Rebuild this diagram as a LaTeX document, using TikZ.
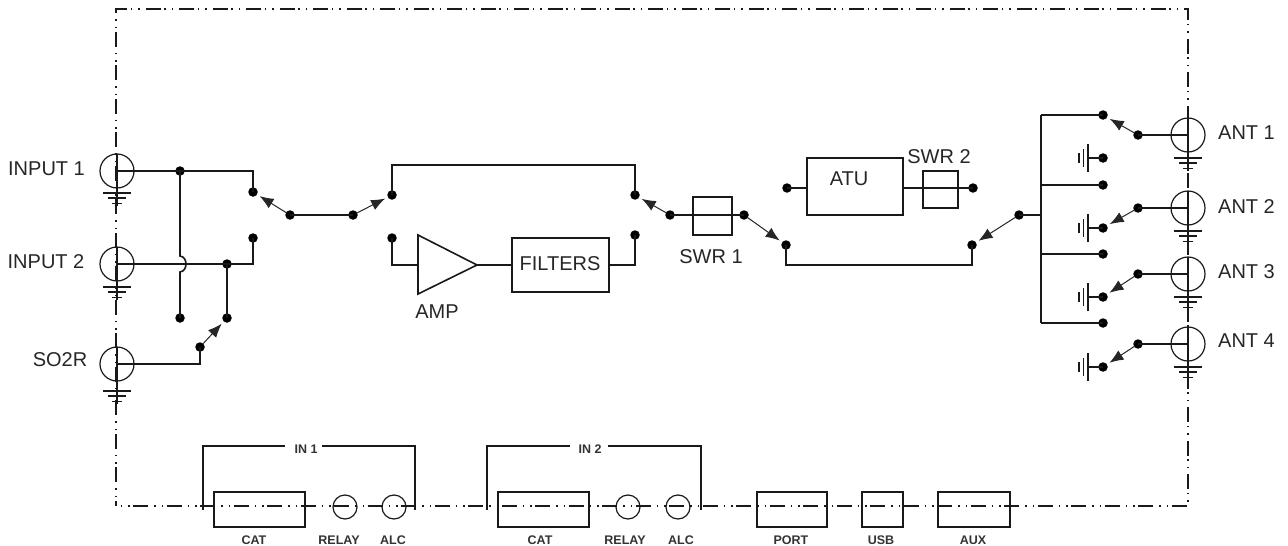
\documentclass[tikz,border=0pt]{standalone}
\usepackage{fontspec}
\setmainfont{Liberation Sans}
\usetikzlibrary{arrows.meta}
\tikzset{
  x=1pt,y=-1pt,
  wire/.style={line width=1.6pt,line join=miter,black!90},
  frameline/.style={line width=1.3pt,black!90,dash pattern=on 15pt off 6pt on 1.5pt off 6pt on 1.5pt off 3.5pt,dash phase=16.5pt},
  dotn/.style={circle,fill=black,inner sep=0pt,outer sep=0pt,minimum size=9.5pt},
  arm/.style={line width=1pt,black!85,-{Latex[length=14pt,width=11pt]},shorten >=3pt},
  box/.style={draw=black!90,line width=1.6pt,inner sep=0pt,outer sep=0pt,anchor=north west,fill=none},
  coax/.style={circle,draw=black!90,line width=1.2pt,inner sep=0pt,outer sep=0pt,minimum size=34pt},
  port/.style={circle,draw=black!90,line width=1.2pt,inner sep=0pt,outer sep=0pt,minimum size=24pt},
  big/.style={font=\fontsize{20}{20}\selectfont,text=black!85,inner sep=0pt},
  small/.style={font=\fontsize{12.5}{12.5}\selectfont\bfseries,text=black!80,inner sep=0pt},
}
\newcommand{\gndh}[1]{% horizontal ground hanging below a coordinate
  \draw[wire] ([xshift=-14pt]#1) -- ([xshift=14pt]#1);
  \draw[wire] ([xshift=-9pt,yshift=-5pt]#1) -- ([xshift=9pt,yshift=-5pt]#1);
  \draw[wire] ([xshift=-5pt,yshift=-10.5pt]#1) -- ([xshift=5pt,yshift=-10.5pt]#1);
}
\newcommand{\gndv}[1]{% vertical ground to the left of a coordinate
  \draw[wire] ([yshift=-14pt]#1) -- ([yshift=14pt]#1);
  \draw[wire] ([xshift=-4.5pt,yshift=-9pt]#1) -- ([xshift=-4.5pt,yshift=9pt]#1);
  \draw[wire] ([xshift=-9pt,yshift=-5pt]#1) -- ([xshift=-9pt,yshift=5pt]#1);
}
\newcommand{\boxat}[5]{\node[box,minimum width=#4pt,minimum height=#5pt] (#1) at (#2,#3) {};}
\begin{document}
\begin{tikzpicture}
\useasboundingbox (0,0) rectangle (1288,546);
% frame
\coordinate (fa) at (116,506); \coordinate (fb) at (1188,506);
\coordinate (fc) at (1188,9); \coordinate (fd) at (116,9);
\draw[frameline] (fa) -- (fb) -- (fc) -- (fd) -- cycle;

% input connectors
\node[coax] (in1) at (117,171) {};
\node[coax] (in2) at (117,264) {};
\node[coax] (so2r) at (117,364) {};
\coordinate (g1) at (117,193); \coordinate (g1e) at (117,206);
\coordinate (g2) at (117,287); \coordinate (g2e) at (117,300);
\coordinate (g3) at (117,391); \coordinate (g3e) at (117,404);
\draw[wire] (in1.north) -- (g1e); \gndh{g1}
\draw[wire] (in2.north) -- (g2e); \gndh{g2}
\draw[wire] (so2r.north) -- (g3e); \gndh{g3}
\node[big] (lin1) at (46.5,169) {INPUT 1};
\node[big] (lin2) at (46,262) {INPUT 2};
\node[big] (lso) at (60,360) {SO2R};

% input switching
\node[dotn] (j1) at (180,171) {};
\node[dotn] (s1a) at (253,192) {};
\node[dotn] (s1b) at (253,238) {};
\node[dotn] (s1p) at (290,215) {};
\node[dotn] (j2) at (227,264) {};
\node[dotn] (k1) at (180,318) {};
\node[dotn] (k2) at (227,318) {};
\node[dotn] (kp) at (200,347) {};
\coordinate (c1) at (253,171); \coordinate (c2) at (253,264); \coordinate (c3) at (200,364);
\coordinate (h1) at (180,256); \coordinate (h2) at (180,272);
\draw[wire] (in1.center) -- (c1) -- (s1a.center);
\draw[wire] (in2.center) -- (c2) -- (s1b.center);
\draw[wire] (so2r.center) -- (c3) -- (kp.center);
\draw[wire] (j2.center) -- (k2.center);
\draw[wire] (j1.center) -- (h1) .. controls (188,257) and (188,271) .. (h2) -- (k1.center);
\draw[arm] (s1p) -- (s1a);
\draw[arm] (kp) -- (k2);

% amp path
\node[dotn] (s2p) at (353,215) {};
\node[dotn] (s2a) at (392,195) {};
\node[dotn] (s2b) at (392,238) {};
\node[dotn] (s3a) at (635,195) {};
\node[dotn] (s3b) at (635,235) {};
\node[dotn] (s3p) at (670,215) {};
\coordinate (t1) at (392,165); \coordinate (t2) at (635,165);
\coordinate (a1) at (392,265); \coordinate (a2) at (635,265);
\coordinate (ampin) at (418,265); \coordinate (ampa) at (418,235);
\coordinate (ampb) at (418,294); \coordinate (ampout) at (477,265);
\boxat{filt}{512}{238}{97}{54}
\coordinate (filtL) at (512,265); \coordinate (filtR) at (609,265);
\node[big] (lfilt) at (560,264) {FILTERS};
\node[big] (lamp) at (437,312) {AMP};
\draw[wire] (ampa) -- (ampb) -- (ampout) -- cycle;
\draw[wire] (s1p.center) -- (s2p.center);
\draw[wire] (s2a.center) -- (t1) -- (t2) -- (s3a.center);
\draw[wire] (s2b.center) -- (a1) -- (ampin);
\draw[wire] (ampout) -- (filtL);
\draw[wire] (filtR) -- (a2) -- (s3b.center);
\draw[arm] (s2p) -- (s2a);
\draw[arm] (s3p) -- (s3a);

% SWR 1
\boxat{swa}{693}{197}{39}{38}
\node[big] (lswa) at (711,257) {SWR 1};
\node[dotn] (s4p) at (744,215) {};
\node[dotn] (s4a) at (786,245) {};
\node[dotn] (s5a) at (972,245) {};
\node[dotn] (s5p) at (1019,215) {};
\coordinate (b1) at (786,265); \coordinate (b2) at (972,265);
\draw[wire] (s3p.center) -- (s4p.center);
\draw[wire] (s4a.center) -- (b1) -- (b2) -- (s5a.center);
\draw[arm] (s4p) -- (s4a);
\draw[arm] (s5p) -- (s5a);

% ATU
\boxat{atu}{807}{158}{96}{57}
\node[big] (latu) at (849,179) {ATU};
\boxat{swb}{923}{171}{35}{37}
\node[big] (lswb) at (939,157) {SWR 2};
\node[dotn] (atl) at (787,188) {};
\node[dotn] (atr) at (973,188) {};
\coordinate (atuL) at (807,188); \coordinate (atuR) at (903,188);
\draw[wire] (atl.center) -- (atuL);
\draw[wire] (atuR) -- (atr.center);

% antenna bus
\coordinate (bt) at (1041,115); \coordinate (bb) at (1041,323);
\coordinate (bm) at (1041,215); \coordinate (b185) at (1041,185); \coordinate (b254) at (1041,254);
\draw[wire] (bt) -- (bb);
\draw[wire] (s5p.center) -- (bm);
\node[dotn] (c1a) at (1103,115) {};
\node[dotn] (c2a) at (1103,185) {};
\node[dotn] (c3a) at (1103,254) {};
\node[dotn] (c4a) at (1103,323) {};
\draw[wire] (bt) -- (c1a.center);
\draw[wire] (b185) -- (c2a.center);
\draw[wire] (b254) -- (c3a.center);
\draw[wire] (bb) -- (c4a.center);
\foreach \n/\gy/\py/\cy/\ly/\t in {1/158/135/135/133/ANT 1,2/228/208/208/207/ANT 2,3/297/274/274/272/ANT 3,4/367/344/344/341/ANT 4}{
  \node[dotn] (gd\n) at (1103,\gy) {};
  \coordinate (gv\n) at (1088,\gy);
  \node[dotn] (p\n) at (1138,\py) {};
  \node[coax] (ant\n) at (1188,\cy) {};
  \coordinate (ag\n) at (1188,\cy+23);
  \coordinate (ae\n) at (1188,\cy+36);
  \draw[wire] (gv\n) -- (gd\n.center);
  \gndv{gv\n}
  \draw[wire] (p\n.center) -- (ant\n.center);
  \draw[wire] (ant\n.north) -- (ae\n);
  \gndh{ag\n}
  \node[big] (lant\n) at (1246.5,\ly) {\t};
}
\draw[arm] (p1) -- (c1a);
\draw[arm] (p2) -- (gd2);
\draw[arm] (p3) -- (gd3);
\draw[arm] (p4) -- (gd4);

% bottom connectors
\boxat{cat1}{214}{492}{91}{35}
\boxat{cat2}{498}{492}{91}{35}
\boxat{prt}{757}{492}{70}{35}
\boxat{usb}{862}{492}{41}{35}
\boxat{aux}{938}{492}{72}{35}
\node[port] (rel1) at (345,507) {};
\node[port] (alc1) at (394,507) {};
\node[port] (rel2) at (628,507) {};
\node[port] (alc2) at (678,507) {};
\node[small] (lcat1) at (254,540) {CAT};
\node[small] (lrel1) at (339,540) {RELAY};
\node[small] (lalc1) at (393,540) {ALC};
\node[small] (lcat2) at (540,540) {CAT};
\node[small] (lrel2) at (625,540) {RELAY};
\node[small] (lalc2) at (681,540) {ALC};
\node[small] (lport) at (791,540) {PORT};
\node[small] (lusb) at (881,540) {USB};
\node[small] (laux) at (973,540) {AUX};
\node[small] (tin1) at (306,449) {IN 1};
\node[small] (tin2) at (590,449) {IN 2};
\coordinate (i1a) at (203,510); \coordinate (i1b) at (203,446); \coordinate (i1c) at (285,446);
\coordinate (i1d) at (322,446); \coordinate (i1e) at (415,446); \coordinate (i1f) at (415,510);
\coordinate (i2a) at (487,510); \coordinate (i2b) at (487,446); \coordinate (i2c) at (570,446);
\coordinate (i2d) at (608,446); \coordinate (i2e) at (701,446); \coordinate (i2f) at (701,510);
\draw[wire] (i1a) -- (i1b) -- (i1c);
\draw[wire] (i1d) -- (i1e) -- (i1f);
\draw[wire] (i2a) -- (i2b) -- (i2c);
\draw[wire] (i2d) -- (i2e) -- (i2f);
\end{tikzpicture}
\end{document}
